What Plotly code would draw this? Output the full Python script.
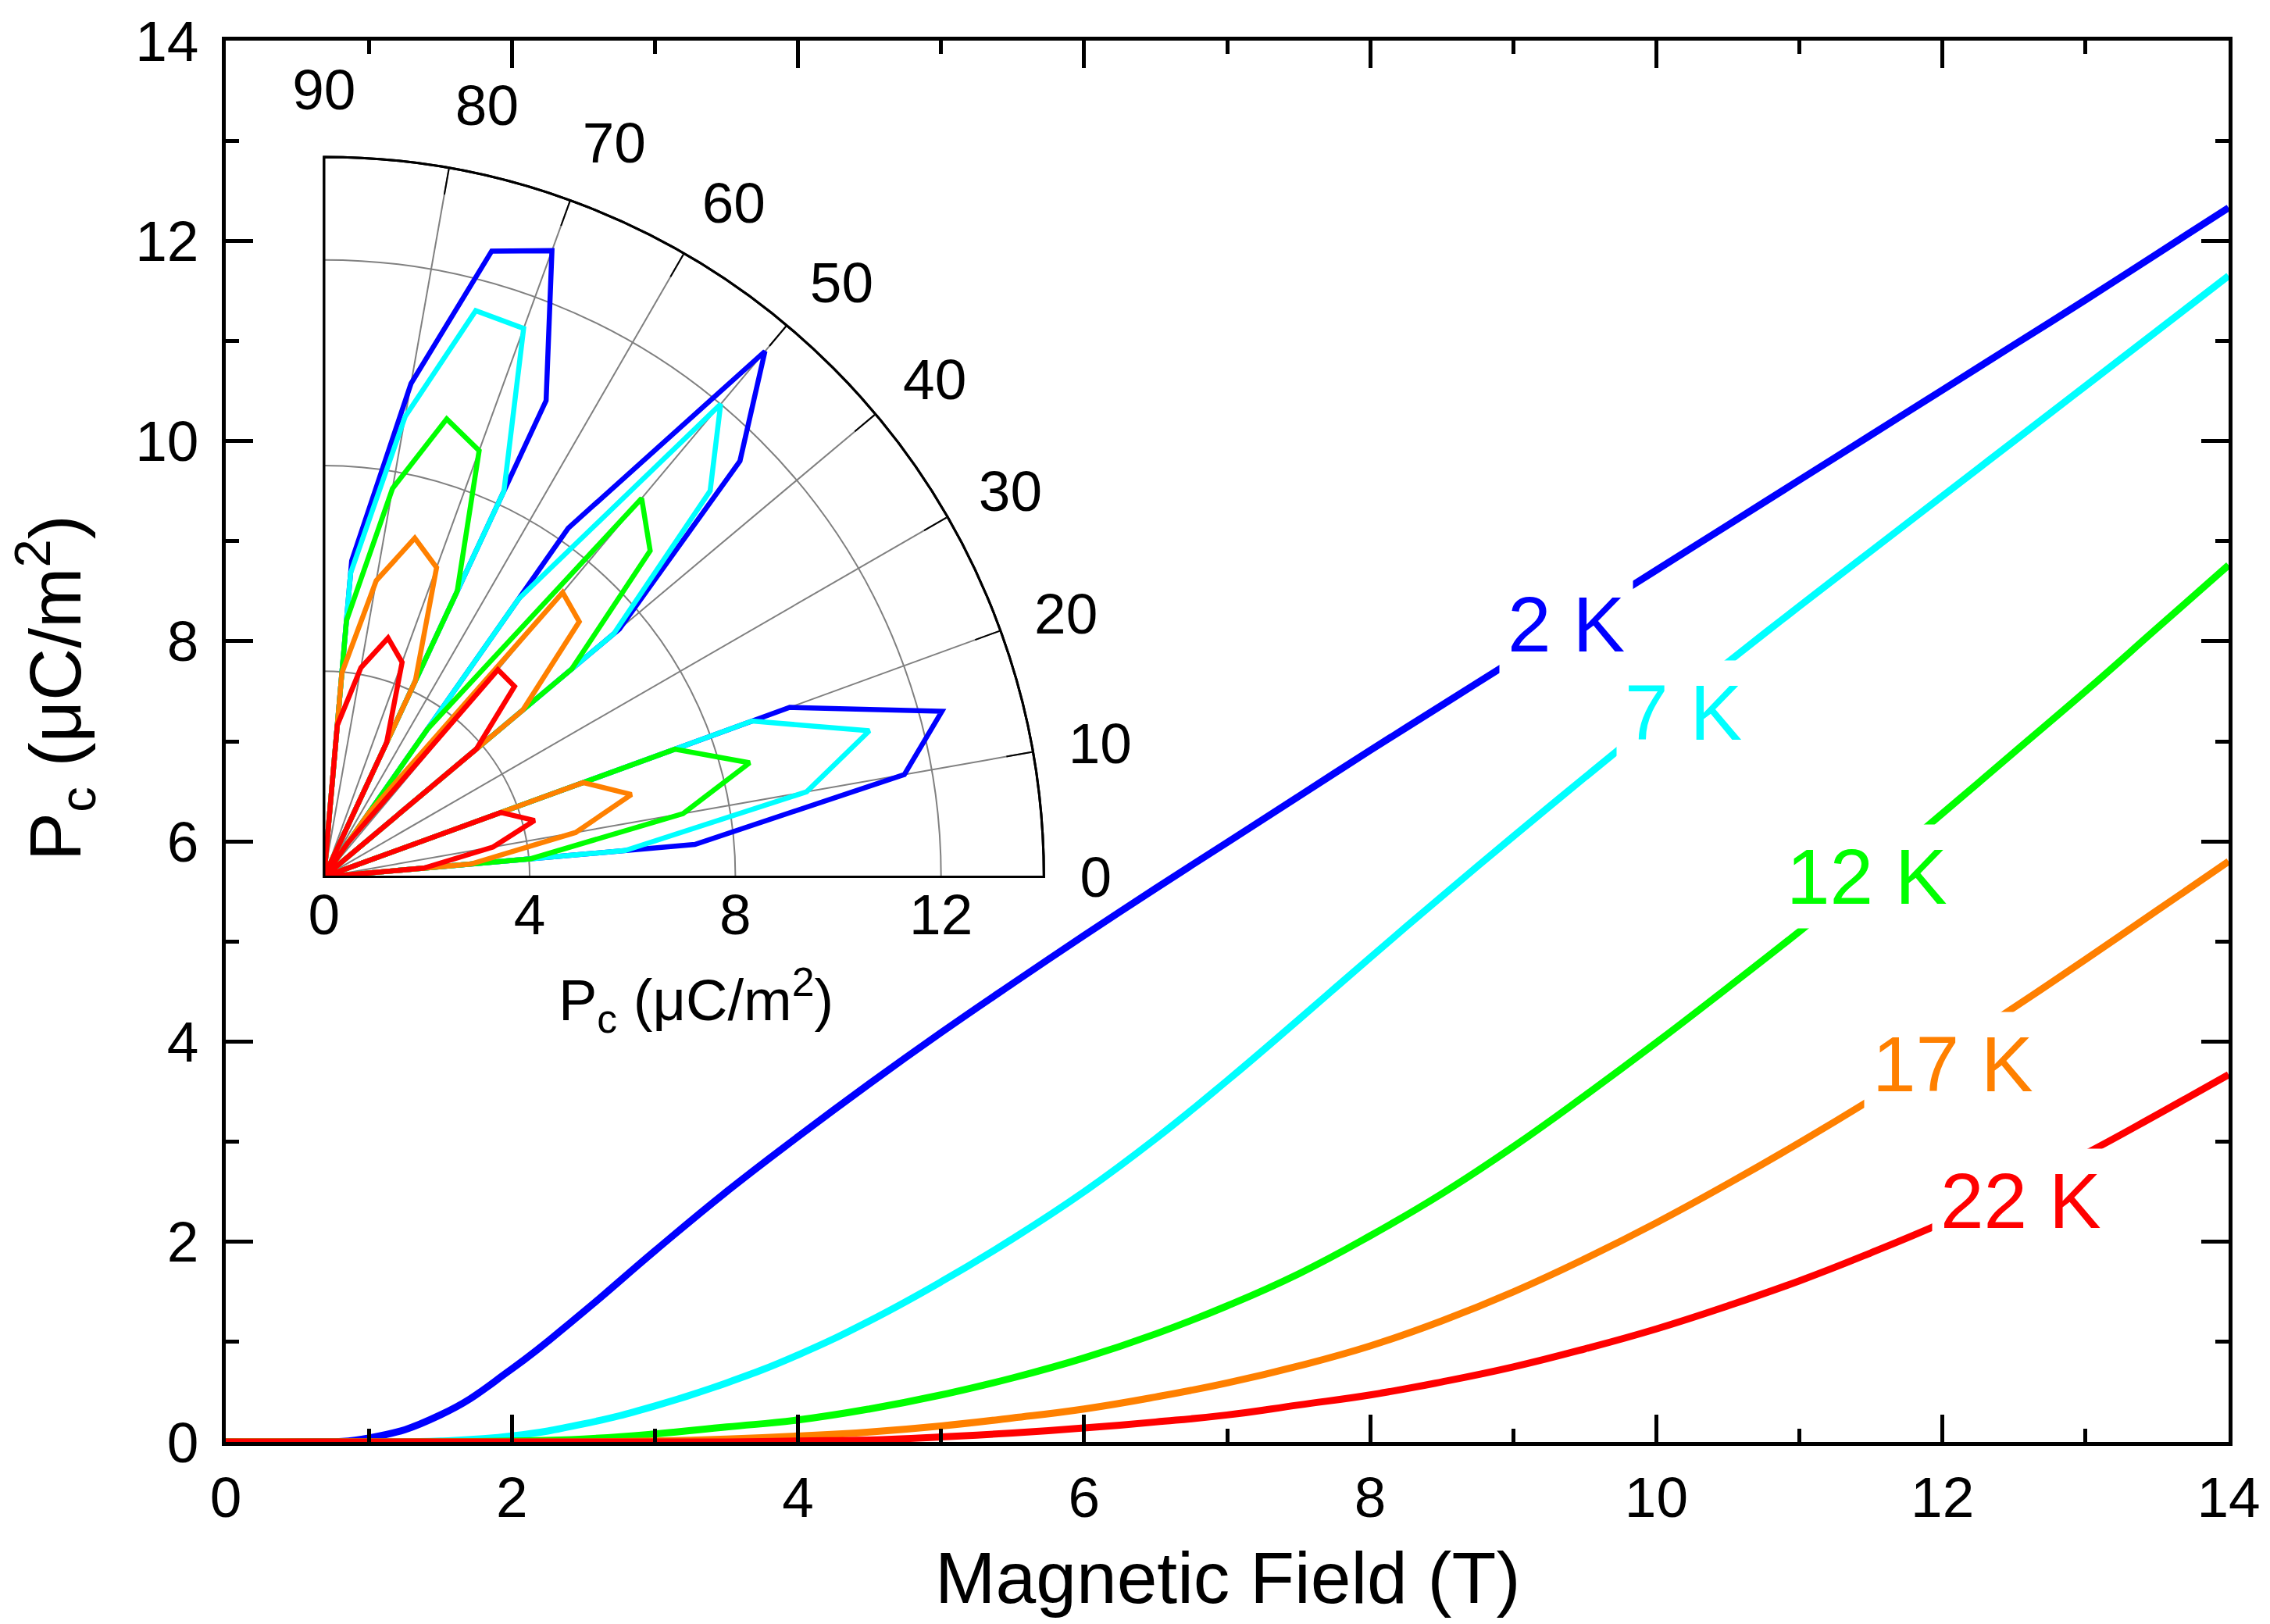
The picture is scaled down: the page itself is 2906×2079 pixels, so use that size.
import plotly.graph_objects as go

# ---------------- data ----------------
field = [0, 0.5, 1, 1.5, 2, 2.5, 3, 3.5, 4, 4.5, 5, 5.5, 6, 6.5, 7, 7.5,
         8, 8.5, 9, 9.5, 10, 10.5, 11, 11.5, 12, 12.5, 13, 13.5, 14]

pc_2K = [0, 0, 0.04, 0.27, 0.73, 1.30, 1.91, 2.50, 3.05, 3.58, 4.09, 4.58, 5.06, 5.53,
         5.99, 6.45, 6.91, 7.36, 7.81, 8.26, 8.71, 9.16, 9.61, 10.06, 10.51, 10.96,
         11.41, 11.87, 12.33]
pc_7K = [0, 0, 0, 0.01, 0.06, 0.18, 0.36, 0.59, 0.87, 1.21, 1.60, 2.03, 2.50, 3.03,
         3.61, 4.22, 4.84, 5.45, 6.05, 6.64, 7.22, 7.79, 8.35, 8.90, 9.45, 10.00,
         10.55, 11.10, 11.65]
pc_12K = [0, 0, 0, 0, 0.01, 0.03, 0.08, 0.15, 0.22, 0.33, 0.47, 0.64, 0.84, 1.08,
          1.36, 1.68, 2.06, 2.48, 2.95, 3.46, 3.99, 4.54, 5.10, 5.68, 6.28, 6.89,
          7.50, 8.13, 8.76]
pc_17K = [0, 0, 0, 0, 0, 0, 0.01, 0.03, 0.06, 0.10, 0.16, 0.24, 0.33, 0.45, 0.59,
          0.76, 0.96, 1.21, 1.50, 1.83, 2.19, 2.58, 2.99, 3.42, 3.87, 4.34, 4.82,
          5.31, 5.80]
pc_22K = [0, 0, 0, 0, 0, 0, 0, 0, 0.01, 0.02, 0.05, 0.09, 0.14, 0.20, 0.27, 0.37,
          0.47, 0.60, 0.75, 0.93, 1.13, 1.36, 1.61, 1.89, 2.19, 2.52, 2.88, 3.27, 3.67]

temperature_labels = ["2 K", "7 K", "12 K", "17 K", "22 K"]

# inset: P_c at 14 T versus field angle (degrees)
angle = [0, 5, 10, 15, 20, 25, 30, 35, 40, 45, 50, 55, 60, 65, 70, 75, 80, 85, 90]
polar_2K = [0, 7.24, 11.46, 12.44, 9.64, 0, 0, 0, 7.50, 11.44, 13.34, 8.28, 0,
            10.22, 12.96, 12.60, 9.74, 6.17, 0]
polar_7K = [0, 5.88, 9.53, 10.98, 8.86, 0, 0, 0, 7.36, 10.62, 12.00, 6.60, 0,
            8.28, 11.35, 11.40, 9.09, 5.93, 0]
polar_12K = [0, 4.03, 7.09, 8.57, 7.26, 0, 0, 0, 6.29, 8.97, 9.61, 3.50, 0,
             6.13, 8.82, 9.22, 7.67, 5.00, 0]
polar_17K = [0, 2.87, 4.97, 6.19, 5.36, 0, 0, 0, 5.05, 7.02, 7.22, 1.50, 0,
             4.20, 6.40, 6.82, 5.85, 3.98, 0]
polar_22K = [0, 1.95, 3.34, 4.24, 3.66, 0, 0, 0, 3.87, 5.24, 5.26, 0.80, 0,
             2.88, 4.44, 4.81, 4.13, 2.96, 0]

angle_ticks = [0, 10, 20, 30, 40, 50, 60, 70, 80, 90]
radial_ticks = [0, 4, 8, 12]
axis_ticks = [0, 2, 4, 6, 8, 10, 12, 14]

# ---------------- styling ----------------
colors = ["#0000FF", "#00FFFF", "#00FF00", "#FF8000", "#FF0000"]
main_series = [pc_2K, pc_7K, pc_12K, pc_17K, pc_22K]
polar_series = [polar_2K, polar_7K, polar_12K, polar_17K, polar_22K]
label_pos = [(9.37, 8.17), (10.19, 7.29), (11.47, 5.65), (12.07, 3.78), (12.55, 2.41)]

FONT = "Arial, Liberation Sans, sans-serif"
TICK_SIZE = 73

fig = go.Figure()

for vals, col, name in zip(main_series, colors, temperature_labels):
    fig.add_trace(go.Scatter(x=field, y=vals, mode="lines", name=name,
                             line=dict(color=col, width=9, shape="spline", smoothing=1.3),
                             showlegend=False))

for vals, col, name in zip(polar_series, colors, temperature_labels):
    fig.add_trace(go.Scatterpolar(r=vals, theta=angle, mode="lines", name=name,
                                  line=dict(color=col, width=6.5),
                                  showlegend=False, subplot="polar"))

# empty trace so the overlay polar (inner tick marks) is created
fig.add_trace(go.Scatterpolar(r=[], theta=[], mode="lines", showlegend=False,
                              subplot="polar2", hoverinfo="skip"))

W, H = 2906, 2079
ml, mr, mt, mb = 289, 49, 51, 233
pw, ph = W - ml - mr, H - mt - mb

# inset placement in pixels
ox, oy, rad = 415, 1122.6, 923
dom_x = [(ox - ml) / pw, (ox + rad - ml) / pw]
dom_y = [(H - mb - oy) / ph, (H - mb - oy + rad) / ph]

axis_common = dict(
    range=[0, 14], tickvals=axis_ticks, ticks="inside", ticklen=35, tickwidth=5,
    tickcolor="black", showline=True, linewidth=5, linecolor="black",
    mirror="ticks", showgrid=False, zeroline=False,
    tickfont=dict(size=TICK_SIZE, family=FONT, color="black"),
    minor=dict(dtick=1, ticks="inside", ticklen=17, tickwidth=5, tickcolor="black",
               showgrid=False),
)

fig.update_layout(
    width=W, height=H,
    margin=dict(l=ml, r=mr, t=mt, b=mb),
    paper_bgcolor="white", plot_bgcolor="white",
    font=dict(family=FONT, color="black"),
    xaxis=dict(**axis_common, ticklabelstandoff=3),
    yaxis=dict(**axis_common, ticklabelstandoff=15),
    polar=dict(
        domain=dict(x=dom_x, y=dom_y),
        sector=[0, 90],
        bgcolor="rgba(0,0,0,0)",
        radialaxis=dict(range=[0, 14], tickvals=radial_ticks, angle=0,
                        showline=False, ticks="", showgrid=True,
                        gridcolor="#808080", gridwidth=2,
                        tickfont=dict(size=TICK_SIZE, family=FONT, color="black")),
        angularaxis=dict(tickvals=angle_ticks, direction="counterclockwise",
                         rotation=0, ticks="outside", ticklen=30, tickwidth=1,
                         tickcolor="rgba(0,0,0,0)", showline=True, linecolor="black",
                         linewidth=3, gridcolor="#808080", gridwidth=2,
                         tickfont=dict(size=TICK_SIZE, family=FONT, color="black")),
    ),
    polar2=dict(
        domain=dict(x=dom_x, y=dom_y),
        sector=[0, 90],
        bgcolor="rgba(0,0,0,0)",
        radialaxis=dict(range=[0, 14], visible=False, showgrid=False),
        angularaxis=dict(tickvals=angle_ticks, direction="counterclockwise",
                         rotation=0, ticks="inside", ticklen=33, tickwidth=2,
                         tickcolor="black", showticklabels=False, showline=True,
                         linecolor="black", linewidth=3, showgrid=False),
    ),
)

annotations = []
for (lx, ly), txt, col in zip(label_pos, temperature_labels, colors):
    annotations.append(dict(x=lx, y=ly, xref="x", yref="y", text=txt, showarrow=False,
                            font=dict(size=100, color=col, family=FONT),
                            bgcolor="white", borderpad=10,
                            xanchor="center", yanchor="middle"))

annotations.append(dict(x=0.5, y=(H - mb - 2020) / ph, xref="paper", yref="paper",
                        text="Magnetic Field (T)", showarrow=False,
                        font=dict(size=93, family=FONT, color="black"),
                        xanchor="center", yanchor="middle"))
annotations.append(dict(x=(70 - ml) / pw, y=(H - mb - 880) / ph, xref="paper", yref="paper",
                        text="P<sub>c</sub> (\u03bcC/m<sup>2</sup>)", showarrow=False,
                        textangle=-90,
                        font=dict(size=93, family=FONT, color="black"),
                        xanchor="center", yanchor="middle"))
annotations.append(dict(x=(892 - ml) / pw, y=(H - mb - 1280) / ph, xref="paper", yref="paper",
                        text="P<sub>c</sub> (\u03bcC/m<sup>2</sup>)", showarrow=False,
                        font=dict(size=74, family=FONT, color="black"),
                        xanchor="center", yanchor="middle"))
fig.update_layout(annotations=annotations)

fig.write_html("out.html", config={"displayModeBar": False},
               post_script="document.body.style.margin='0';document.body.style.overflow='hidden';")
